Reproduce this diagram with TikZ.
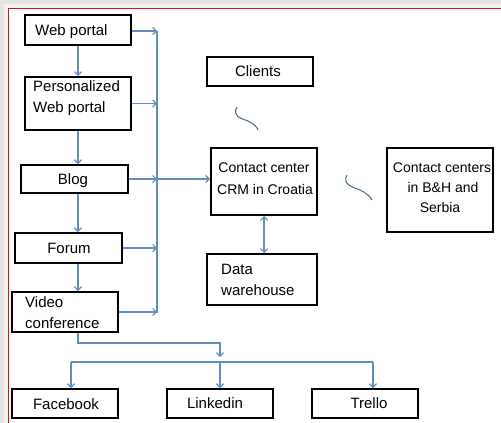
\documentclass[tikz,border=0pt]{standalone}
\usepackage{fontspec}
\setmainfont{Liberation Sans}
\usetikzlibrary{arrows.meta,calc}
\definecolor{connblue}{RGB}{98,142,190}
\definecolor{tildeblue}{RGB}{70,105,140}
\definecolor{framered}{RGB}{215,20,20}
\begin{document}
\begin{tikzpicture}[x=1pt,y=-1pt,
  box/.style={draw=black,line width=2pt,rectangle,inner sep=0pt},
  lbl/.style={inner sep=0pt,font=\fontsize{15}{18}\selectfont,anchor=base west},
  slbl/.style={inner sep=0pt,font=\fontsize{14}{17}\selectfont,anchor=base},
  conn/.style={draw=connblue,line width=1.2pt},
  tip/.style={-{Straight Barb[length=3.5pt,width=7pt]}},
  dtip/.style={{Straight Barb[length=3.5pt,width=7pt]}-{Straight Barb[length=3.5pt,width=7pt]}},
  tilde/.style={draw=tildeblue,line width=1pt}]
\useasboundingbox (0,0) rectangle (501,423);
\fill[gray!22] (0,0) rectangle (501,423);
\fill[gray!12] (4,4) rectangle (501,423);
\fill[white,draw=framered,line width=1.8pt] (8.5,8.5) rectangle (515,440);
% boxes
\node[box,minimum width=106pt,minimum height=30pt] (web) at (78,30) {};
\node[box,minimum width=106pt,minimum height=53pt] (pers) at (78,103.5) {};
\node[box,minimum width=107pt,minimum height=28pt] (blog) at (74.5,179) {};
\node[box,minimum width=107pt,minimum height=30pt] (forum) at (68.5,248) {};
\node[box,minimum width=106pt,minimum height=40pt] (video) at (65,312) {};
\node[box,minimum width=106pt,minimum height=29pt] (fb) at (65,403.5) {};
\node[box,minimum width=106pt,minimum height=29pt] (lk) at (220,403.5) {};
\node[box,minimum width=106pt,minimum height=29pt] (tr) at (365,403.5) {};
\node[box,minimum width=106pt,minimum height=29pt] (cl) at (260,71.5) {};
\node[box,minimum width=106pt,minimum height=67pt] (crm) at (264,181.5) {};
\node[box,minimum width=106pt,minimum height=84pt] (cc) at (440,190) {};
\node[box,minimum width=110pt,minimum height=51pt] (dw) at (262,279.5) {};
% texts
\node[lbl] (webT) at (35,35) {Web portal};
\node[lbl] (persT1) at (33,91) {Personalized};
\node[lbl] (persT2) at (33,112) {Web portal};
\node[lbl,anchor=base] (blogT) at (73,184) {Blog};
\node[lbl,anchor=base] (forumT) at (69,253) {Forum};
\node[lbl] (videoT1) at (25,307) {Video};
\node[lbl] (videoT2) at (25,328) {conference};
\node[lbl,anchor=base] (fbT) at (66,409) {Facebook};
\node[lbl,anchor=base] (lkT) at (215,408) {Linkedin};
\node[lbl,anchor=base] (trT) at (369,408) {Trello};
\node[lbl,anchor=base] (clT) at (258,76) {Clients};
\node[slbl] (crmT1) at (264,172) {Contact center};
\node[slbl] (crmT2) at (265,194) {CRM in Croatia};
\node[slbl] (ccT1) at (442,172) {Contact centers};
\node[slbl] (ccT2) at (443,192) {in B\&H and};
\node[slbl] (ccT3) at (440,212) {Serbia};
\node[lbl] (dwT1) at (221,274) {Data};
\node[lbl] (dwT2) at (221,295) {warehouse};
% bus coordinates
\coordinate (busTop) at (157,31);
\coordinate (busBot) at (157,313);
\coordinate (h1) at (0,343);
\coordinate (h2) at (0,357);
\coordinate (h3) at (0,362);
\coordinate (fbA) at (71,362);
\coordinate (trA) at (373,362);
% connectors
\draw[conn] (busTop) -- (busBot);
\draw[conn,tip] (web.east |- busTop) -- (busTop);
\draw[conn,tip] (pers.east) -- (pers.east -| busTop);
\draw[conn,tip] (blog.east) -- (blog.east -| busTop);
\draw[conn,tip] (blog.east -| busTop) -- (blog.east -| crm.west);
\draw[conn,tip] (forum.east) -- (forum.east -| busTop);
\draw[conn,tip] (video.east) -- (video.east -| busTop);
\draw[conn,tip] (web.south) -- (pers.north);
\draw[conn,tip] (pers.south) -- (pers.south |- blog.north);
\draw[conn,tip] (blog.south -| pers.south) -- (forum.north -| pers.south);
\draw[conn,tip] (forum.south -| pers.south) -- (video.north -| pers.south);
\draw[conn,tip] (video.south -| pers.south) |- (h1 -| lk.north) -- (h2 -| lk.north);
\draw[conn] (fbA) -- (trA);
\draw[conn,tip] (fbA) -- (fbA |- fb.north);
\draw[conn,tip] (h3 -| lk.north) -- (lk.north);
\draw[conn,tip] (trA) -- (trA |- tr.north);
\draw[conn,dtip] (crm.south) -- (crm.south |- dw.north);
% tildes
\coordinate (t1a) at (237,107);
\coordinate (t1b) at (258,130);
\coordinate (t2a) at (347,175);
\coordinate (t2b) at (372,200);
\draw[tilde] (t1a) .. controls (232,116) and (240,118) .. (248,121) .. controls (254,124) and (257,127) .. (t1b);
\draw[tilde] (t2a) .. controls (342,184) and (352,187) .. (360,190) .. controls (366,193) and (370,196) .. (t2b);
\end{tikzpicture}
\end{document}
